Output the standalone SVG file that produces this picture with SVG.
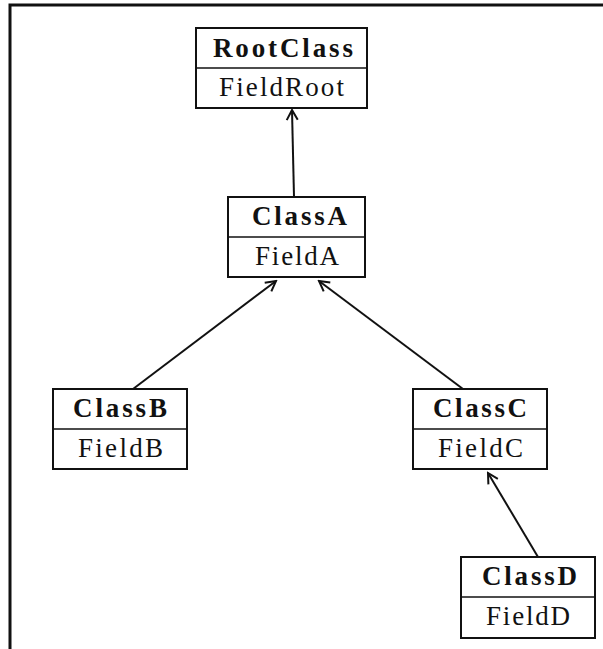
<svg xmlns="http://www.w3.org/2000/svg" width="603" height="649" viewBox="0 0 603 649">
<style>
.box{fill:#fff;stroke:#111;stroke-width:2}
.div{stroke:#111;stroke-width:1.5}
.name{font-family:"Liberation Serif","Times New Roman",serif;font-weight:bold;font-size:27px;fill:#111;text-anchor:middle}
.field{font-family:"Liberation Serif","Times New Roman",serif;font-size:27px;fill:#111;text-anchor:middle}
.edge{stroke:#111;stroke-width:2;fill:none;marker-end:url(#open)}
</style>
<defs>
<marker id="open" viewBox="-12 -7 14 14" refX="0" refY="0" markerWidth="14" markerHeight="14" markerUnits="userSpaceOnUse" orient="auto">
<path d="M-10,-5.5 L0,0 L-10,5.5" fill="none" stroke="#111" stroke-width="2"/>
</marker>
</defs>
<rect width="603" height="649" fill="#fff"/>
<g id="frame">
<path d="M10,649 V5 H603" fill="none" stroke="#111" stroke-width="3"/>
</g>
<g id="connectors">
<line class="edge" x1="294" y1="197" x2="292" y2="110"/>
<line class="edge" x1="133" y1="389" x2="276" y2="281"/>
<line class="edge" x1="463" y1="389" x2="319" y2="281"/>
<line class="edge" x1="538" y1="557" x2="488" y2="473"/>
</g>
<g id="RootClass">
<rect class="box" x="196" y="28" width="171" height="80"/>
<line class="div" x1="196" y1="68" x2="367" y2="68"/>
<text class="name" x="283" y="57" textLength="140" lengthAdjust="spacing">RootClass</text>
<text class="field" x="281.5" y="96" textLength="125" lengthAdjust="spacing">FieldRoot</text>
</g>
<g id="ClassA">
<rect class="box" x="228" y="197" width="137" height="80"/>
<line class="div" x1="228" y1="237" x2="365" y2="237"/>
<text class="name" x="299.5" y="225" textLength="95" lengthAdjust="spacing">ClassA</text>
<text class="field" x="297" y="265" textLength="84" lengthAdjust="spacing">FieldA</text>
</g>
<g id="ClassB">
<rect class="box" x="53" y="389" width="134" height="80"/>
<line class="div" x1="53" y1="429" x2="187" y2="429"/>
<text class="name" x="120" y="417" textLength="94" lengthAdjust="spacing">ClassB</text>
<text class="field" x="120.5" y="457" textLength="85" lengthAdjust="spacing">FieldB</text>
</g>
<g id="ClassC">
<rect class="box" x="413" y="389" width="134" height="80"/>
<line class="div" x1="413" y1="429" x2="547" y2="429"/>
<text class="name" x="480" y="417" textLength="94" lengthAdjust="spacing">ClassC</text>
<text class="field" x="480.5" y="457" textLength="85" lengthAdjust="spacing">FieldC</text>
</g>
<g id="ClassD">
<rect class="box" x="461" y="557" width="134" height="81"/>
<line class="div" x1="461" y1="597" x2="595" y2="597"/>
<text class="name" x="529.5" y="585" textLength="95" lengthAdjust="spacing">ClassD</text>
<text class="field" x="528" y="625" textLength="84" lengthAdjust="spacing">FieldD</text>
</g>
</svg>
